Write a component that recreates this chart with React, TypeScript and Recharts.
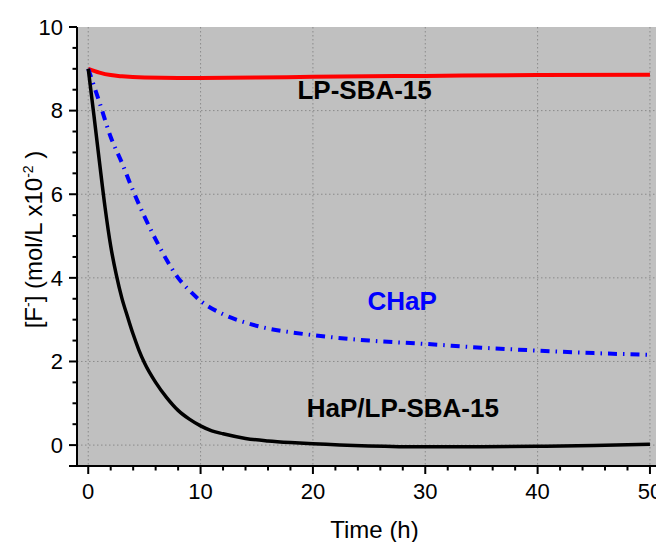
import React from 'react';
import { LineChart, Line, XAxis, YAxis, CartesianGrid, ReferenceDot, Label } from 'recharts';

const FONT = '"Liberation Sans", Arial, sans-serif';

const timeLP = [0, 1, 2, 3, 5, 8, 10, 15, 20, 30, 40, 50];
const valLP = [9.0, 8.91, 8.85, 8.82, 8.79, 8.78, 8.78, 8.79, 8.81, 8.83, 8.85, 8.86];

const timeCHaP = [0, 1, 2, 3, 4, 5, 6, 7, 8, 9, 10, 12, 14, 16, 18, 20, 25, 30, 35, 40, 45, 50];
const valCHaP = [9.0, 8.2, 7.37, 6.75, 6.08, 5.47, 4.92, 4.42, 4.0, 3.7, 3.45, 3.13, 2.93, 2.79, 2.7, 2.63, 2.5, 2.42, 2.33, 2.26, 2.2, 2.16];

const timeHaP = [0, 0.5, 1, 1.5, 2, 2.5, 3, 3.5, 4, 4.5, 5, 6, 7, 8, 9, 10, 11, 12, 14, 16, 18, 20, 25, 30, 35, 40, 45, 50];
const valHaP = [9.0, 7.9, 6.77, 5.68, 4.76, 4.07, 3.51, 3.07, 2.65, 2.28, 1.97, 1.5, 1.13, 0.83, 0.62, 0.46, 0.34, 0.27, 0.16, 0.1, 0.06, 0.03, -0.02, -0.04, -0.04, -0.03, -0.01, 0.02];

const xTicks = [0, 2, 4, 6, 8, 10, 12, 14, 16, 18, 20, 22, 24, 26, 28, 30, 32, 34, 36, 38, 40, 42, 44, 46, 48, 50];
const xMajor = [0, 10, 20, 30, 40, 50];
const yTicks = [-0.5, 0, 0.5, 1, 1.5, 2, 2.5, 3, 3.5, 4, 4.5, 5, 5.5, 6, 6.5, 7, 7.5, 8, 8.5, 9, 9.5, 10];
const yMajor = [0, 2, 4, 6, 8, 10];
const yGrid = [0, 2, 4, 6, 8];

const annotations = [
  { t: 24.6, v: 8.5, text: 'LP-SBA-15', color: '#000000' },
  { t: 27.95, v: 3.46, text: 'CHaP', color: '#0000ff' },
  { t: 28.0, v: 0.9, text: 'HaP/LP-SBA-15', color: '#000000' },
];

const toData = (ts: number[], vs: number[]) => ts.map((t, i) => ({ t, v: vs[i] }));
const dataLP = toData(timeLP, valLP);
const dataCHaP = toData(timeCHaP, valCHaP);
const dataHaP = toData(timeHaP, valHaP);

const XTick = (props: any) => {
  const { x, y, payload } = props;
  const v = payload.value;
  const major = xMajor.includes(v);
  return (
    <g>
      <line x1={x} x2={x} y1={y} y2={y + (major ? 8 : 4.5)} stroke="#000" strokeWidth={2} />
      {major && (
        <text x={x} y={y + 33} textAnchor="middle" fontSize={22} fontFamily={FONT} fill="#000">
          {v}
        </text>
      )}
    </g>
  );
};

const YTick = (props: any) => {
  const { x, y, payload } = props;
  const v = payload.value;
  const major = yMajor.includes(v) || v === -0.5;
  const showLabel = yMajor.includes(v);
  return (
    <g>
      <line x1={x} x2={x - (major ? 8 : 4.5)} y1={y} y2={y} stroke="#000" strokeWidth={2} />
      {showLabel && (
        <text x={x - 14} y={y + 7.8} textAnchor="end" fontSize={22} fontFamily={FONT} fill="#000">
          {v}
        </text>
      )}
    </g>
  );
};

const YTitle = (props: any) => {
  const vb = props.viewBox || { x: 0, y: 19, width: 69, height: 439 };
  const x = vb.x + 34;
  const y = vb.y + vb.height / 2 - 7;
  return (
    <text transform={`translate(${x},${y}) rotate(-90)`} textAnchor="middle" fontSize={24} fontFamily={FONT} fill="#000">
      [F<tspan dy={-9} fontSize={14}>-</tspan>
      <tspan dy={9}>] (mol/L x10</tspan>
      <tspan dy={-9} fontSize={14}>-2</tspan>
      <tspan dy={9}> )</tspan>
    </text>
  );
};

const XTitle = (props: any) => {
  const vb = props.viewBox || { x: 69, y: 458, width: 587, height: 76 };
  return (
    <text x={vb.x + vb.width / 2 + 4} y={vb.y + 72} textAnchor="middle" fontSize={24} fontFamily={FONT} fill="#000">
      Time (h)
    </text>
  );
};

const Anno = (props: any) => {
  const vb = props.viewBox || { x: 0, y: 0, width: 0, height: 0 };
  const cx = vb.x + (vb.width || 0) / 2;
  const cy = vb.y + (vb.height || 0) / 2;
  return (
    <text x={cx} y={cy} dy="0.36em" textAnchor="middle" fontSize={26} fontWeight="bold" fontFamily={FONT} fill={props.color}>
      {props.text}
    </text>
  );
};

export default function App() {
  return (
    <div>
      <style>{'html,body{overflow:hidden}'}</style>
      <LineChart width={656} height={534} margin={{ top: 19, right: 0, left: 0, bottom: 0 }}>
        <CartesianGrid
          fill="#c0c0c0"
          stroke="#8a8a8a"
          strokeDasharray="1.5 2.5"
          horizontalValues={yGrid}
          verticalValues={xMajor}
        />
        <XAxis
          type="number"
          dataKey="t"
          domain={[-1, 51.25]}
          ticks={xTicks}
          interval={0}
          allowDataOverflow
          height={76}
          tickSize={0}
          tickMargin={0}
          tickLine={false}
          tick={<XTick />}
          axisLine={{ stroke: '#000', strokeWidth: 2 }}
        >
          <Label content={<XTitle />} />
        </XAxis>
        <YAxis
          type="number"
          dataKey="v"
          domain={[-0.5, 10]}
          ticks={yTicks}
          interval={0}
          allowDataOverflow
          width={69}
          tickSize={0}
          tickMargin={0}
          tickLine={false}
          tick={<YTick />}
          axisLine={{ stroke: '#000', strokeWidth: 2 }}
        >
          <Label content={<YTitle />} />
        </YAxis>
        <Line data={dataLP} dataKey="v" type="monotone" stroke="#ff0000" strokeWidth={4} dot={false} isAnimationActive={false} />
        <Line data={dataCHaP} dataKey="v" type="monotone" stroke="#0000ff" strokeWidth={4} strokeDasharray="9 6 1.5 6" dot={false} isAnimationActive={false} />
        <Line data={dataHaP} dataKey="v" type="monotone" stroke="#000000" strokeWidth={3.5} dot={false} isAnimationActive={false} />
        {annotations.map((a) => (
          <ReferenceDot key={a.text} x={a.t} y={a.v} r={0} fill="none" stroke="none" label={<Anno text={a.text} color={a.color} />} />
        ))}
      </LineChart>
    </div>
  );
}
